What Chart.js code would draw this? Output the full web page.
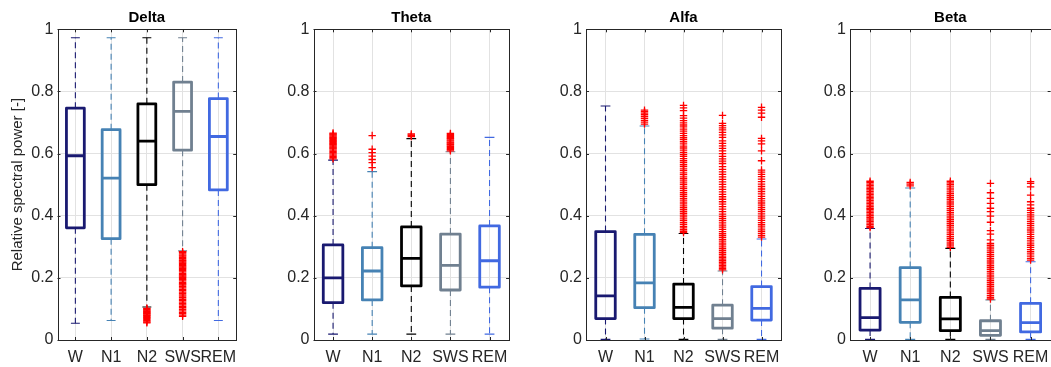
<!DOCTYPE html>
<html><head><meta charset="utf-8">
<script src="https://cdn.jsdelivr.net/npm/chart.js@4.4.1/dist/chart.umd.min.js"></script>
<style>
html,body{margin:0;padding:0;background:#fff;overflow:hidden;width:1051px;height:367px;position:relative;}
canvas{position:absolute;top:0;}
</style></head><body>
<canvas id="c0"></canvas><canvas id="c1"></canvas><canvas id="c2"></canvas><canvas id="c3"></canvas>
<script>
// ---------- data ----------
const categories = ['W', 'N1', 'N2', 'SWS', 'REM'];
const bandNames = ['Delta', 'Theta', 'Alfa', 'Beta'];
const yTicks = [0, 0.2, 0.4, 0.6, 0.8, 1];
const yTickLabels = ['0', '0.2', '0.4', '0.6', '0.8', '1'];
const yAxisTitle = 'Relative spectral power [-]';

const deltaLower  = [0.054, 0.063, 0.106, 0.287, 0.063];
const deltaQ1     = [0.361, 0.326, 0.500, 0.611, 0.483];
const deltaMedian = [0.593, 0.521, 0.640, 0.736, 0.655];
const deltaQ3     = [0.746, 0.677, 0.760, 0.830, 0.777];
const deltaUpper  = [0.973, 0.973, 0.973, 0.973, 0.973];
const deltaOutliers = [
  [],
  [],
  [0.102,0.099,0.096,0.094,0.091,0.089,0.086,0.084,0.081,0.079,0.076,0.073,0.070,0.066,0.062,0.058,0.055],
  [0.284,0.281,0.277,0.273,0.270,0.266,0.262,0.258,0.255,0.251,0.247,0.243,0.239,0.235,0.231,0.227,0.223,0.219,0.214,0.210,0.206,0.202,0.198,0.194,0.190,0.185,0.181,0.177,0.172,0.168,0.163,0.159,0.154,0.150,0.145,0.141,0.136,0.131,0.127,0.122,0.117,0.113,0.108,0.104,0.099,0.094,0.089,0.085,0.080,0.076],
  []
];

const thetaLower  = [0.019, 0.019, 0.019, 0.019, 0.019];
const thetaQ1     = [0.120, 0.129, 0.174, 0.161, 0.170];
const thetaMedian = [0.200, 0.222, 0.263, 0.240, 0.255];
const thetaQ3     = [0.306, 0.297, 0.364, 0.341, 0.367];
const thetaUpper  = [0.579, 0.542, 0.648, 0.606, 0.652];
const thetaOutliers = [
  [0.666,0.663,0.660,0.657,0.654,0.651,0.648,0.645,0.642,0.639,0.636,0.633,0.630,0.627,0.624,0.621,0.618,0.615,0.611,0.607,0.603,0.599,0.595,0.591,0.587,0.583],
  [0.658,0.614,0.603,0.592,0.581,0.571,0.555],
  [0.663,0.659,0.655],
  [0.665,0.662,0.658,0.655,0.651,0.648,0.644,0.641,0.637,0.634,0.630,0.627,0.623,0.620,0.616,0.613,0.609],
  []
];

const alfaLower  = [0.002, 0.003, 0.002, 0.002, 0.002];
const alfaQ1     = [0.069, 0.104, 0.069, 0.038, 0.064];
const alfaMedian = [0.142, 0.184, 0.105, 0.069, 0.102];
const alfaQ3     = [0.349, 0.340, 0.180, 0.112, 0.172];
const alfaUpper  = [0.753, 0.689, 0.343, 0.222, 0.325];
const alfaOutliers = [
  [],
  [0.740,0.735,0.730,0.725,0.719,0.713,0.707,0.701,0.695],
  [0.755,0.747,0.738,0.722,0.714,0.706,0.699,0.692,0.686,0.679,0.672,0.665,0.658,0.651,0.645,0.638,0.631,0.624,0.618,0.611,0.604,0.597,0.591,0.584,0.577,0.571,0.564,0.558,0.551,0.545,0.538,0.532,0.525,0.519,0.512,0.506,0.500,0.493,0.487,0.481,0.474,0.468,0.462,0.456,0.450,0.444,0.438,0.432,0.426,0.420,0.414,0.408,0.402,0.396,0.390,0.384,0.378,0.372,0.366,0.361,0.355,0.350,0.346],
  [0.723,0.697,0.690,0.683,0.676,0.668,0.660,0.652,0.641,0.633,0.625,0.617,0.609,0.600,0.591,0.583,0.576,0.568,0.558,0.549,0.541,0.533,0.525,0.517,0.509,0.501,0.493,0.485,0.477,0.469,0.461,0.453,0.445,0.437,0.429,0.421,0.413,0.405,0.398,0.391,0.384,0.377,0.370,0.363,0.356,0.349,0.342,0.336,0.330,0.324,0.318,0.312,0.306,0.300,0.294,0.288,0.282,0.276,0.270,0.265,0.260,0.255,0.250,0.245,0.240,0.235,0.230,0.226],
  [0.749,0.740,0.730,0.717,0.649,0.641,0.631,0.609,0.577,0.547,0.540,0.533,0.526,0.518,0.510,0.502,0.494,0.486,0.478,0.470,0.462,0.455,0.448,0.441,0.434,0.427,0.420,0.413,0.406,0.399,0.392,0.385,0.378,0.371,0.364,0.357,0.350,0.343,0.337,0.331]
];

const betaLower  = [0.002, 0.002, 0.002, 0.002, 0.002];
const betaQ1     = [0.032, 0.057, 0.030, 0.015, 0.026];
const betaMedian = [0.072, 0.129, 0.068, 0.030, 0.056];
const betaQ3     = [0.166, 0.233, 0.137, 0.062, 0.118];
const betaUpper  = [0.359, 0.489, 0.295, 0.129, 0.252];
const betaOutliers = [
  [0.511,0.507,0.502,0.497,0.492,0.487,0.483,0.478,0.473,0.468,0.463,0.458,0.454,0.449,0.444,0.439,0.434,0.429,0.424,0.420,0.415,0.410,0.405,0.400,0.395,0.390,0.386,0.381,0.376,0.371,0.366,0.362],
  [0.507,0.502,0.496],
  [0.511,0.506,0.501,0.495,0.489,0.483,0.477,0.471,0.465,0.459,0.453,0.447,0.441,0.435,0.429,0.423,0.417,0.411,0.405,0.399,0.393,0.387,0.381,0.375,0.369,0.363,0.357,0.351,0.345,0.339,0.333,0.327,0.321,0.315,0.309,0.303,0.298],
  [0.504,0.474,0.456,0.440,0.424,0.413,0.399,0.379,0.352,0.341,0.322,0.311,0.305,0.299,0.293,0.287,0.281,0.275,0.269,0.263,0.257,0.251,0.245,0.239,0.233,0.227,0.221,0.215,0.209,0.203,0.197,0.191,0.185,0.179,0.173,0.167,0.161,0.155,0.149,0.143,0.137,0.132],
  [0.510,0.504,0.493,0.466,0.445,0.435,0.424,0.417,0.410,0.403,0.396,0.389,0.382,0.375,0.368,0.361,0.354,0.347,0.340,0.333,0.326,0.319,0.312,0.305,0.298,0.291,0.284,0.277,0.270,0.263,0.257]
];

// ---------- styles / layout ----------
const boxColors = ['#191970', '#4682B4', '#000000', '#708090', '#4169E1'];
const outlierColor = '#ff0000';
const axisColor = '#262626';
const gridColor = '#e2e2e2';
const FONT = '"Liberation Sans", Arial, Helvetica, sans-serif';
const BOX_HALF = 0.25, CAP_HALF = 0.125;
// axis box position of each panel on the page (px)
const panels = [
  {left: 57.5,  right: 241.0},
  {left: 313.5, right: 511.5},
  {left: 586.0, right: 783.5},
  {left: 850.0, right: 1052.5}
];

const bands = [
  {lower: deltaLower, q1: deltaQ1, med: deltaMedian, q3: deltaQ3, upper: deltaUpper, out: deltaOutliers},
  {lower: thetaLower, q1: thetaQ1, med: thetaMedian, q3: thetaQ3, upper: thetaUpper, out: thetaOutliers},
  {lower: alfaLower,  q1: alfaQ1,  med: alfaMedian,  q3: alfaQ3,  upper: alfaUpper,  out: alfaOutliers},
  {lower: betaLower,  q1: betaQ1,  med: betaMedian,  q3: betaQ3,  upper: betaUpper,  out: betaOutliers}
];

function buildDatasets(b) {
  const ds = [];
  const outPts = [];
  categories.forEach((cat, i) => {
    const x = i + 1, col = boxColors[i];
    ds.push({
      data: [{x: x, y: b.q3[i]}, {x: x, y: b.upper[i]}, {x: x, y: null},
             {x: x, y: b.q1[i]}, {x: x, y: b.lower[i]}],
      showLine: true, spanGaps: false, borderColor: col, borderWidth: 1.1,
      borderDash: [6, 4], pointRadius: 0, order: 3
    });
    ds.push({
      data: [{x: x - CAP_HALF, y: b.upper[i]}, {x: x + CAP_HALF, y: b.upper[i]}, {x: x, y: null},
             {x: x - CAP_HALF, y: b.lower[i]}, {x: x + CAP_HALF, y: b.lower[i]}],
      showLine: true, spanGaps: false, borderColor: col, borderWidth: 1.1,
      pointRadius: 0, order: 2
    });
    ds.push({
      data: [{x: x, y: b.q1[i]}, {x: x + BOX_HALF, y: b.q1[i]}, {x: x + BOX_HALF, y: b.q3[i]},
             {x: x - BOX_HALF, y: b.q3[i]}, {x: x - BOX_HALF, y: b.q1[i]}, {x: x, y: b.q1[i]},
             {x: x, y: null},
             {x: x - BOX_HALF, y: b.med[i]}, {x: x + BOX_HALF, y: b.med[i]}],
      showLine: true, spanGaps: false, borderColor: col, borderWidth: 2.8,
      borderJoinStyle: 'round', borderCapStyle: 'butt', pointRadius: 0, order: 1
    });
    b.out[i].forEach(v => outPts.push({x: x, y: v}));
  });
  ds.push({
    data: outPts, showLine: false, pointStyle: 'cross', pointRadius: 3.7,
    borderColor: outlierColor, backgroundColor: outlierColor, pointBorderWidth: 1.3, order: 0
  });
  return ds;
}

const boxPlugin = {
  id: 'matlabBox',
  afterDraw(chart) {
    const {ctx, chartArea: a, scales} = chart;
    ctx.save();
    ctx.strokeStyle = axisColor;
    ctx.lineWidth = 1;
    ctx.strokeRect(Math.round(a.left) + 0.5, Math.round(a.top) + 0.5,
                   Math.round(a.right) - Math.round(a.left), Math.round(a.bottom) - Math.round(a.top));
    const TL = 3;
    ctx.beginPath();
    yTicks.forEach(v => {
      const y = Math.round(scales.y.getPixelForValue(v)) + 0.5;
      ctx.moveTo(a.left, y); ctx.lineTo(a.left + TL, y);
      ctx.moveTo(a.right, y); ctx.lineTo(a.right - TL, y);
    });
    categories.forEach((c, i) => {
      const x = Math.round(scales.x.getPixelForValue(i + 1)) + 0.5;
      ctx.moveTo(x, a.bottom); ctx.lineTo(x, a.bottom - TL);
      ctx.moveTo(x, a.top); ctx.lineTo(x, a.top + TL);
    });
    ctx.stroke();
    ctx.restore();
  }
};

const H = 367;
bands.forEach((b, k) => {
  const p = panels[k];
  const isFirst = k === 0;
  const canvasLeft = isFirst ? 0 : Math.floor(p.left) - 44;
  const yW = p.left - canvasLeft;
  const canvasW = Math.ceil(p.right) - canvasLeft + 4;
  const padRight = canvasW - (p.right - canvasLeft);
  const cv = document.getElementById('c' + k);
  cv.width = canvasW; cv.height = H;
  cv.style.left = canvasLeft + 'px';
  cv.style.width = canvasW + 'px'; cv.style.height = H + 'px';

  new Chart(cv, {
    type: 'scatter',
    data: {datasets: buildDatasets(b)},
    options: {
      responsive: false, animation: false, devicePixelRatio: 1, events: [],
      layout: {padding: {left: 0, right: padRight, top: 0, bottom: 0}},
      plugins: {
        legend: {display: false}, tooltip: {enabled: false},
        title: {
          display: true, text: bandNames[k], fullSize: false, color: '#000',
          font: {family: FONT, size: 15, weight: 'bold', lineHeight: 1.2},
          padding: {top: 9.3, bottom: 2}
        }
      },
      scales: {
        x: {
          type: 'linear', min: 0.5, max: 5.5,
          afterBuildTicks: s => { s.ticks = categories.map((c, i) => ({value: i + 1})); },
          afterFit: s => { s.height = H - 340; },
          ticks: {
            callback: v => categories[Math.round(v) - 1],
            font: {family: FONT, size: 16}, color: axisColor, padding: 8,
            maxRotation: 0, autoSkip: false
          },
          grid: {color: gridColor, lineWidth: 1, drawTicks: false},
          border: {display: false}
        },
        y: {
          type: 'linear', min: 0, max: 1,
          afterBuildTicks: s => { s.ticks = yTicks.map(v => ({value: v})); },
          afterFit: s => { s.width = yW; },
          ticks: {
            callback: v => yTickLabels[yTicks.indexOf(v)],
            font: {family: FONT, size: 16}, color: axisColor, padding: 4
          },
          grid: {color: gridColor, lineWidth: 1, drawTicks: false},
          border: {display: false},
          title: {
            display: isFirst, text: yAxisTitle, color: axisColor,
            font: {family: FONT, size: 15}, padding: {top: 9, bottom: 0}
          }
        }
      }
    },
    plugins: [boxPlugin]
  });
});
</script>
</body></html>
